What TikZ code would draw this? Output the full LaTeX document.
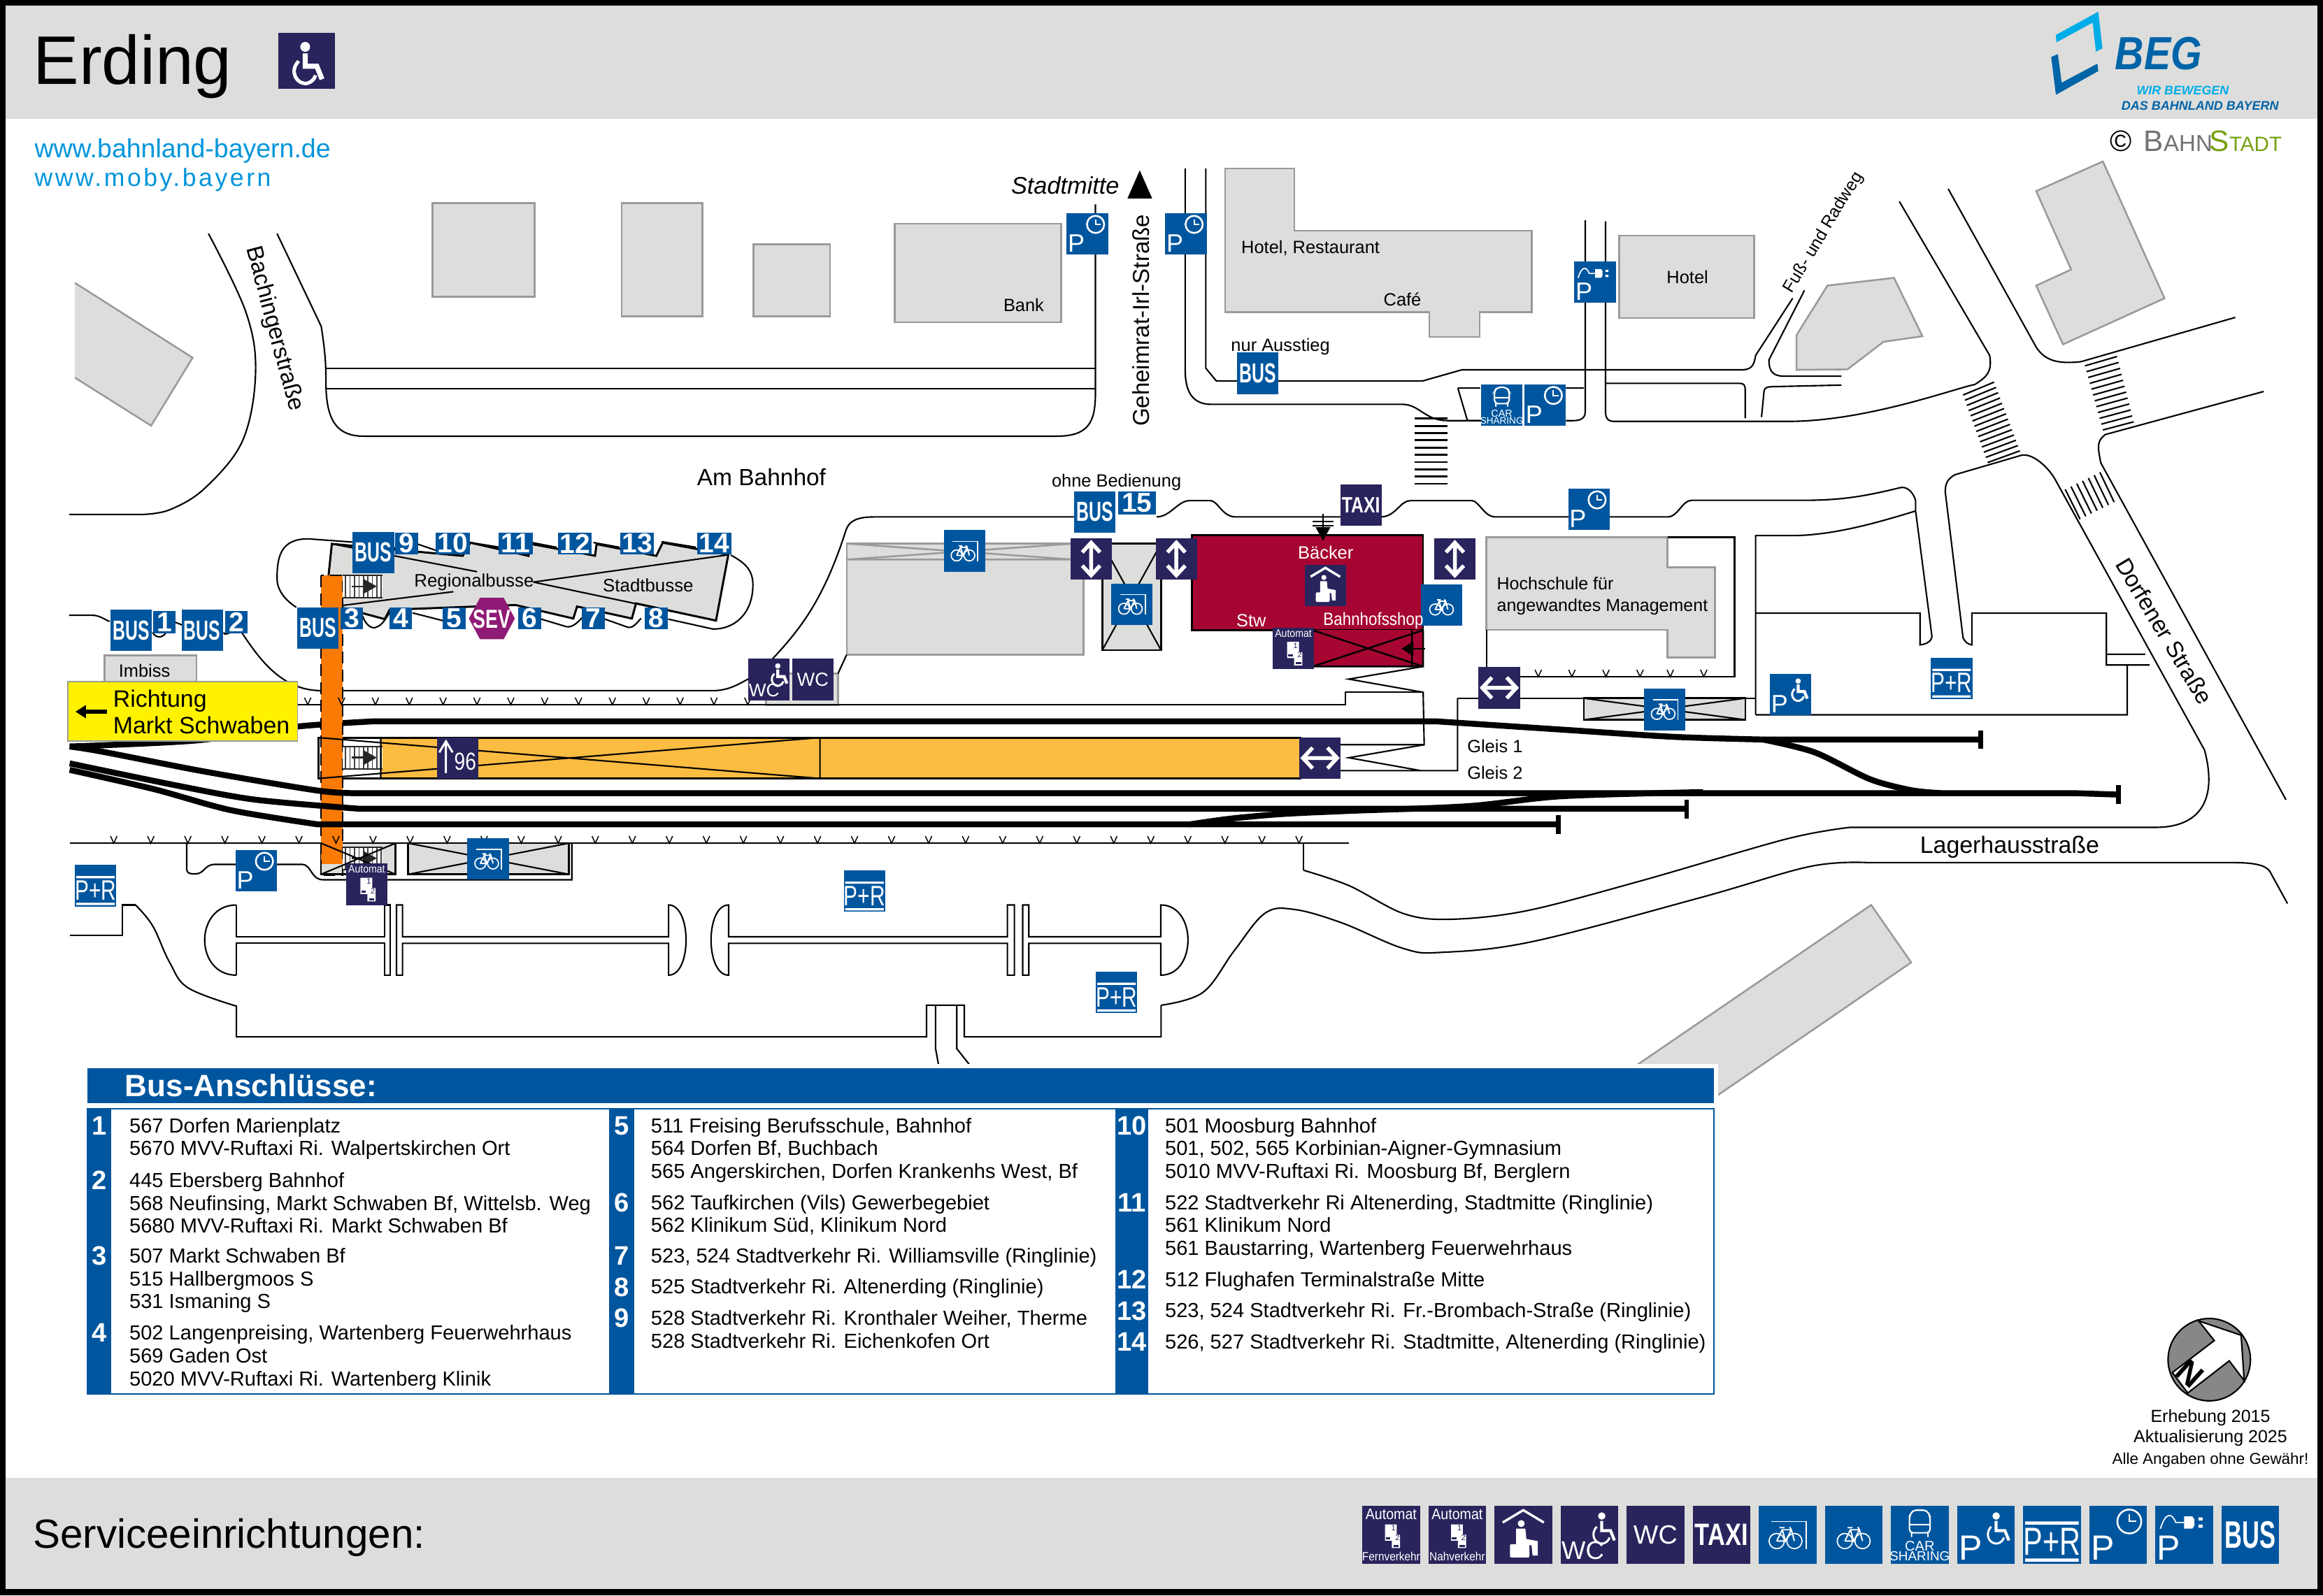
\documentclass[tikz,border=0pt]{standalone}
\usepackage{fontspec}
\setmainfont{Liberation Sans}
\newfontfamily\spacedfont[LetterSpace=10]{Liberation Sans}
\usetikzlibrary{calc}

\definecolor{begblue}{HTML}{00569E}
\definecolor{navysign}{HTML}{29245C}
\definecolor{crimsonbox}{HTML}{A60532}
\definecolor{orangebar}{HTML}{F97A04}
\definecolor{amberbox}{HTML}{FBBC42}
\definecolor{buildgray}{HTML}{DDDDDC}
\definecolor{buildline}{HTML}{9A9A9A}
\definecolor{sevpurple}{HTML}{8F1A75}
\definecolor{signyellow}{HTML}{FFF200}
\definecolor{linkblue}{HTML}{0095DB}
\definecolor{logolight}{HTML}{00ADE8}
\definecolor{logodark}{HTML}{0064A8}
\definecolor{stadtgreen}{HTML}{76A012}

\newcommand{\fsz}[1]{\fontsize{#1}{#1}\selectfont}
\newcommand{\wcpath}[1][1]{%
	\fill (0,-6.5) circle (1.9);
	\draw[line width=#1*1pt] (0,-4)--(0,1)--(4.5,1)--(6.5,6);
	\draw[line width=#1*.7pt] (-2.5,-1) .. controls (-6.5,3) and (-3,8.5) .. (1,7.5) .. controls (2.5,7) and (3.5,6) .. (4,4.5);
}
\newcommand{\clockpath}{%
	\draw[white,line width=.6pt] (5.5,-6.5) circle (5.8);
	\draw[white,line width=.5pt] (5.5,-10)--(5.5,-6.5)--(9,-6.5);
}
\newcommand{\bikepath}{%
	\draw[white,line width=.4pt] (-4.3,3) circle (3.7) (4.3,3) circle (3.7);
	\draw[white,line width=.45pt] (-4.3,3)--(-1.6,-2.5)--(2.8,-2.5)--(4.3,3) (-1.6,-2.5)--(0,3)--(2.8,-2.5) (-4.3,3)--(0,3) (-3,-3.5)--(-.5,-3.5) (2,-3.8)--(2.8,-2.5);
}
\newcommand{\docpath}{%
	\fill[white] (-4.2,-5)--(3.8,-5)--(3.8,2)--(6,2)--(6,11)--(.5,11)--(.5,6)--(-4.2,6)--cycle;
	\node[text=navysign,font=\fsz{2.6},inner sep=0pt] at (1.5,-2.5) {1};
	\node[text=navysign,font=\fsz{2.6},inner sep=0pt] at (4.2,4) {2};
	\fill[navysign] (-3.5,3.6) rectangle (-.5,5);
	\fill[navysign] (1.5,8.8) rectangle (5.2,10.2);
}
\tikzset{
	road/.style={draw=black,line width=.5pt},
	house/.style={fill=buildgray,draw=buildline,line width=.6pt},
	track/.style={draw=black,line width=2pt},
	stoptick/.style={draw=black,line width=1.5pt},
	label/.style={inner sep=0pt,font=\fsz{6}},
	streetname/.style={inner sep=0pt,font=\fsz{7.8}},
	signtxt/.style={text=white,inner sep=0pt},
	numsign/.style={fill=begblue,text=white,font=\bfseries\fsz{9.2},inner sep=0pt,minimum height=7.5pt,minimum width=7.7pt},
	numwide/.style={numsign,minimum width=11.5pt},
	tbl/.style={anchor=north west,inner sep=0pt,align=left,font=\fontsize{6.86}{7.72}\selectfont},
	tblnum/.style={text=white,inner sep=0pt,font=\bfseries\fsz{9}},
	pics/busicon/.style={code={
		\fill[begblue] (-14,-14) rectangle (14,14);
		\node[signtxt,font=\bfseries\fsz{9.3},xscale=.63] at (0,0) {BUS};
	}},
	pics/pclock/.style={code={
		\fill[begblue] (-14,-14) rectangle (14,14);
		\node[signtxt,font=\fsz{8.5}] at (-7.5,6.5) {P};
		\clockpath
	}},
	pics/pplug/.style={code={
		\fill[begblue] (-14,-14) rectangle (14,14);
		\node[signtxt,font=\fsz{8.5}] at (-7.5,6.5) {P};
		\draw[white,line width=.4pt] (-11.5,-3) .. controls (-9,-11) and (-6,-11) .. (-4,-6) -- (2,-6);
		\fill[white] (0,-9)--(4,-9)--(5,-7.5)--(5,-4.5)--(4,-3)--(0,-3)--cycle;
		\fill[white] (7,-8.5) rectangle (9,-7) (7,-5) rectangle (9,-3.5);
	}},
	pics/pdis/.style={code={
		\fill[begblue] (-14,-14) rectangle (14,14);
		\node[signtxt,font=\fsz{8.5}] at (-7.5,6.5) {P};
		\begin{scope}[shift={(5,-3)},white,scale=.95]\wcpath\end{scope}
	}},
	pics/wcdis/.style={code={
		\fill[navysign] (-14,-14) rectangle (14,14);
		\node[signtxt,font=\fsz{6.2}] at (-3.2,7.5) {WC};
		\begin{scope}[shift={(6,-3)},white,scale=.95]\wcpath\end{scope}
	}},
	pics/wcicon/.style={code={
		\fill[navysign] (-14,-14) rectangle (14,14);
		\node[signtxt,font=\fsz{6.4}] at (0,0) {WC};
	}},
	pics/taxiicon/.style={code={
		\fill[navysign] (-14,-14) rectangle (14,14);
		\node[signtxt,font=\bfseries\fsz{7.5},xscale=.78] at (0,0) {TAXI};
	}},
	pics/bikeroof/.style={code={
		\fill[begblue] (-14,-14) rectangle (14,14);
		\draw[white,line width=.4pt] (-8,-6.5)--(9,-6.5)--(9,7);
		\begin{scope}[xshift=-.5pt]\bikepath\end{scope}
	}},
	pics/bikeicon/.style={code={
		\fill[begblue] (-14,-14) rectangle (14,14);
		\bikepath
	}},
	pics/caricon/.style={code={
		\fill[begblue] (-14,-14) rectangle (14,14);
		\draw[white,line width=.5pt,rounded corners=1.2pt] (-5,-1)--(-5,-9)--(-3.5,-12)--(3.5,-12)--(5,-9)--(5,-1)--cycle (-5,-5)--(5,-5) (-4,-1)--(-4,1) (4,-1)--(4,1);
		\node[signtxt,font=\fsz{3.4}] at (0,5.5) {CAR};
		\node[signtxt,font=\fsz{3.2}] at (0,10.5) {SHARING};
	}},
	pics/pricon/.style={code={
		\fill[begblue] (-14,-14) rectangle (14,14);
		\fill[white] (-13,-6.5) rectangle (13,-5) (-13,11.5) rectangle (13,13);
		\node[signtxt,font=\fsz{9.5},xscale=.74] at (0,3.2) {P+R};
	}},
	pics/updown/.style={code={
		\fill[navysign] (-14,-14) rectangle (14,14);
		\draw[white,line width=1.3pt] (0,-10)--(0,10) (-6,-4.5)--(0,-11)--(6,-4.5) (-6,4.5)--(0,11)--(6,4.5);
	}},
	pics/leftright/.style={code={
		\fill[navysign] (-14,-14) rectangle (14,14);
		\draw[white,line width=1.3pt] (-10,0)--(10,0) (-5,-7)--(-11.5,0)--(-5,7) (5,-7)--(11.5,0)--(5,7);
	}},
	pics/automaticon/.style={code={
		\fill[navysign] (-14,-14) rectangle (14,14);
		\node[signtxt,font=\fsz{3.7},xscale=.9] at (0,-10) {Automat};
		\begin{scope}[yshift=-.3pt]\docpath\end{scope}
	}},
	pics/automatcap/.style={code={
		\fill[navysign] (-14,-14) rectangle (14,14);
		\node[signtxt,font=\fsz{3.7},xscale=.9] at (0,-10) {Automat};
		\begin{scope}[shift={(0,-1.5)},scale=.72]\docpath\end{scope}
		\node[signtxt,font=\fsz{2.9},xscale=.9] at (0,10.5) {#1};
	}},
	pics/waiticon/.style={code={
		\fill[navysign] (-14,-14) rectangle (14,14);
		\draw[white,line width=.8pt] (-10,-6)--(0,-12)--(10,-6);
		\fill[white] (-1,-5.5) circle (1.7);
		\fill[white] (-3.5,-3)--(1,-3)--(1.5,2)--(7,3)--(7,10)--(4.5,10)--(4,5)--(-3.5,5)--cycle;
		\fill[white,rounded corners=.5pt] (-6.5,4.5) rectangle (3,11);
	}},
	pics/stairicon/.style={code={
		\fill[white] (0,0) rectangle (27,15);
		\foreach \i in {2,5,...,26}
			\draw[black!75,line width=.4pt] (\i,0)--(\i,15);
		\draw[black!85,line width=.5pt] (0,0)--(27,0) (0,15)--(27,15);
		\fill[black!85] (14,2.5)--(23,7.5)--(14,12.5)--cycle;
		\draw[black!85,line width=.6pt] (6,7.5)--(15,7.5);
	}}
}
\newcommand{\footsign}[2]{\pic[scale=1.39,transform shape] at ({939+#1*44.6},1036.3) {#2};}

\begin{document}
\begin{tikzpicture}[x=.5pt,y=-.5pt]
	\useasboundingbox (0,0) rectangle (1568,1077.2);
	\fill[black] (0,0) rectangle (1568,1077.2);
	\fill[white] (4,4) rectangle (1564,1073);
	\fill[buildgray] (4,4) rectangle (1564,80);
	\fill[buildgray] (4,998) rectangle (1564,1073);

	% header
	\node[anchor=west,inner sep=0pt,font=\fsz{23.2}] (title) at (22,45) {Erding};
	\fill[navysign] (188,22) rectangle (226,60);
	\begin{scope}[shift={(206,43)},white,scale=1.75]\wcpath[1.7]\end{scope}
	\fill[logolight] (1387.7,23.6)--(1416.3,7.9)--(1419.1,32.7)--(1414.7,34.9)--(1412.5,15.3)--(1388,28.6)--cycle;
	\fill[logodark] (1384.5,38.5)--(1389,36.5)--(1391.6,55.8)--(1415.7,43)--(1416.3,48)--(1387.7,64)--cycle;
	\node[text=logodark,inner sep=0pt,font=\bfseries\itshape\fsz{15.7},xscale=.86] (beg) at (1457,36) {BEG};
	\node[text=logolight,inner sep=0pt,font=\bfseries\itshape\fsz{4.2}] (beg1) at (1473.3,61.2) {WIR BEWEGEN};
	\node[text=logodark,inner sep=0pt,font=\bfseries\itshape\fsz{4.25}] (beg2) at (1485,71.3) {DAS BAHNLAND BAYERN};
	\node[inner sep=0pt,font=\fsz{10}] (copy) at (1431.4,95.2) {©};
	\node[anchor=west,inner sep=0pt,text=black!55] (bahn) at (1446.7,95.2) {\fsz{10}B\fsz{7.8}AHN};
	\node[anchor=west,inner sep=0pt,text=stadtgreen] (stadt) at (1491,95.2) {\fsz{10}S\fsz{7}TADT};
	\node[anchor=west,inner sep=0pt,text=linkblue,font=\fsz{8.85}] (url1) at (23,102) {www.bahnland-bayern.de};
	\node[anchor=west,inner sep=0pt,text=linkblue,font=\spacedfont\fsz{8.4}] (url2) at (23,121.5) {www.moby.bayern};

	% buildings
	\draw[house] (292,137) rectangle (360.8,200.3);
	\draw[house] (419.6,137) rectangle (474,213.7);
	\draw[house] (508.7,165) rectangle (560.2,213.7);
	\draw[house] (604,151) rectangle (716.3,217.6);
	\fill[buildgray] (50.6,191)--(130,241.5)--(102,287.4)--(50.6,255)--cycle;
	\draw[buildline,line width=.6pt] (50.6,191)--(130,241.5)--(102,287.4)--(50.6,255);
	\draw[house] (827,113.8)--(873.6,113.8)--(873.6,155.8)--(1033.8,155.8)--(1033.8,210.8)--(998.7,210.8)--(998.7,227.4)--(964.7,227.4)--(964.7,210.8)--(827,210.8)--cycle;
	\draw[house] (1093,159) rectangle (1184,214.8);
	\draw[house] (1233.5,192.8)--(1278.4,187.6)--(1297.6,227)--(1271.3,230.8)--(1247,249.4)--(1212.6,249.7)--(1212.6,226.3)--cycle;
	\draw[house] (1419.4,109)--(1461,201.4)--(1392.5,232.5)--(1374.4,192.8)--(1398,182)--(1374.4,129)--cycle;
	\draw[house] (1263,611)--(1290,649.8)--(1159.5,739.4)--(1105,719)--cycle;
	\draw[house] (70.6,442.5) rectangle (132.6,461);
	\draw[house] (517,454.8) rectangle (565.6,476);
	\draw[house] (571.5,367) rectangle (731.4,442);
	\draw[buildline,line width=.6pt] (571.5,377.8)--(731.4,377.8) (571.5,367)--(725,377.8) (571.5,377.8)--(725,367);
	\draw[house,draw=black] (744,367) rectangle (783.7,439);
	\draw[road] (744,367)--(783.7,439) (783.7,367)--(744,439);
	\draw[house] (1003.3,362.7)--(1125.5,362.7)--(1125.5,383)--(1157.5,383)--(1157.5,443.8)--(1125.5,443.8)--(1125.5,425.3)--(1003.3,425.3)--cycle;
	\draw[house,draw=black] (1069,471.4) rectangle (1178,486);
	\draw[road] (1069,471.4)--(1178,486) (1069,486)--(1178,471.4);
	\draw[house,draw=black] (275.5,569.3) rectangle (384,590.3);
	\draw[road] (275.5,569.3)--(384,590.3) (275.5,590.3)--(384,569.3);
	\draw[house,draw=black] (216.7,569.3) rectangle (267,590.3);

	% roads
	\draw[road] plot[smooth,tension=.6] coordinates {(140.7,157.7)(166,210.8)(172.5,251.7)(163.8,297.4)(138.5,329.4)(115,344)(97,347.3)} -- (46.7,347.3);
	\draw[road] (187,157.7) -- (216.8,220.3) .. controls (220,240) and (220,250) .. (220,258) .. controls (220,285) and (228,294.5) .. (245.7,294.5) -- (713,294.5) .. controls (735,294.5) and (739.4,285) .. (739.4,265) -- (739.4,138);
	\draw[road] (220,248.8)--(739.4,248.8) (220,262.3)--(739.4,262.3);
	\draw[road] (800,113.8)--(800,250) .. controls (800,266) and (806,273) .. (817.7,273) -- (946.6,273) .. controls (958,273) and (962,284) .. (976.8,284) -- (999,284);
	\draw[road] (813.9,113.8)--(813.9,248.6)--(821,257.2)--(960.3,257.2)--(986.6,249.7)--(1175.3,249.7) .. controls (1182,249.7) and (1184,247) .. (1185,240) -- (1210,201.4);
	\draw[road] (984,262)--(999,262) (984,262)--(990.5,284)--(1000,284);
	\draw[road] (1070,148.7)--(1070,278) .. controls (1070,283) and (1066,284) .. (1061.8,284) -- (1057,284) (1057,262)--(1069,262);
	\draw[road] (1083.7,149.5)--(1083.7,278) .. controls (1083.7,283) and (1086,284.5) .. (1089,284.5) -- (1207,284.5) .. controls (1260,284.5) and (1320,262) .. (1333,259.6) .. controls (1340,255) and (1345,252) .. (1343,240) -- (1282,136);
	\draw[road] (1083.7,258.8)--(1174,258.8) .. controls (1177,258.8) and (1178,260) .. (1178,263) -- (1178,282.4);
	\draw[road] (1189,281.6)--(1190.7,264) .. controls (1191,261.5) and (1193,261) .. (1199,261) -- (1243,260);
	\draw[road] (1243,254)--(1204.4,254) .. controls (1196,254) and (1194,250) .. (1194,243) -- (1218,196);
	\draw[road] (1315,127.5)--(1374.4,234.4) .. controls (1380,243) and (1388,246) .. (1404.6,244.2) -- (1508.8,214.3);
	\draw[road] (1528,264.3)--(1421,293.4) .. controls (1415,298) and (1416,302) .. (1418,312.5) -- (1543,540);
	\draw[road] plot[smooth,tension=.55] coordinates {(880,587.6)(910.7,598)(947,616.7)(978,620.7)(1030,615)(1107.7,594.7)(1206,566.4)(1248.8,558.6)} -- (1455,558.6) .. controls (1485,558.6) and (1497,540) .. (1488,506.4) -- (1386.8,323) .. controls (1382,315) and (1372,306) .. (1364.7,307.3) -- (1319.6,320.5) .. controls (1315,323) and (1313,326) .. (1313,332) -- (1325,430.5) .. controls (1326,433) and (1328,435) .. (1331,435.4) -- (1331,414) -- (1421.8,414) -- (1421.8,449) -- (1451,449) (1421.8,441.7)--(1448,441.7) (1435.8,449)--(1435.8,482.6)--(1185,482.6);
	\draw[road] (880,569.3)--(880,587.6);
	\draw[road] (1185,482.6)--(1185,361.6)--(1212,361.6) .. controls (1240,361) and (1270,352) .. (1293,345);
	\draw[road] (1185,414)--(1296,414)--(1296,435.4) .. controls (1300,435) and (1304,433) .. (1304,429.5) -- (1293,345) -- (1293,338) .. controls (1291,331) and (1286,328) .. (1282,329.4) .. controls (1255,336) and (1240,337.8) .. (1215.7,337.8) -- (1142,337.8) .. controls (1135,337.8) and (1133,349) .. (1125.5,349) -- (1009,349) .. controls (1002,349) and (998,338) .. (993.5,338) -- (952,338) .. controls (945,338) and (942,349) .. (932,349);
	\draw[road] (905,349)--(834,349) .. controls (825,349) and (822,338) .. (817,338) -- (803,338) .. controls (795,338) and (790,349) .. (780.6,349);
	\draw[road] (725.5,349)--(590,349) .. controls (578,349) and (573,352) .. (571,358) .. controls (556,405) and (540,425) .. (521,445.3);
	\draw[road] (231,466.3)--(481,466.3) .. controls (492,466.3) and (498,462) .. (506,458);
	\draw[road] (1125.5,362.7)--(1170.8,362.7)--(1170.8,456.9)--(1003.3,456.9)--(1003.3,425.3);
	\draw[road] (983.8,471.4)--(1185,471.4);
	\draw[road] (960.6,450)--(910.4,458.5)--(960.6,467.4)--(961.3,502.8)--(904.5,502.8);
	\draw[road] (960.6,467.4)--(908.3,467.4)--(908.3,475.8)--(200,475.8);
	\draw[road] (961.3,502.8)--(910.4,511.6)--(959,520.3)--(904.5,520.3) (959,520.3)--(983.8,520.3)--(983.8,471.4);
	\draw[road] (47,569.3)--(910.6,569.3);
	\draw[road] (571.5,442)--(565.6,454.8);
	\draw[road] (46.7,415.4)--(62.3,415.4) .. controls (67,415.4) and (70,418) .. (74,419.6);
	\draw[road] (103,427) .. controls (105,431) and (110,431) .. (112,427) (118,420)--(123,422);
	\draw[road] (151,427) .. controls (152,430) and (155,426) .. (158,427) (162.7,426.3) .. controls (175,445) and (190,466) .. (216.4,466.3);
	\draw[road] (126,569.3)--(126,586) .. controls (126,590) and (128,590) .. (132,590) .. controls (138,590) and (138,583.6) .. (145,583.6) -- (204,583.6) .. controls (210,583.6) and (210,594) .. (218,594) -- (386,594) -- (386,569.3);
	% parking lots
	\draw[road] (47,631.5)--(82.8,631.5)--(82.8,611)--(91.5,611);
	\draw[road] plot[smooth,tension=.6] coordinates {(91.5,611)(103,625)(114.6,650)(127,667)(159.6,679.3)} -- (159.6,700)--(625.4,700)--(625.4,678.7)--(650.9,678.7)--(650.9,700)--(783.7,700)--(783.7,678.7);
	\draw[road] plot[smooth,tension=.6] coordinates {(783.7,678.7)(812,670)(833,642)(853.7,616.7)(873.4,614)(905.5,623)(947,640.3)(973,643)(1035,635.6)(1149,605.7)(1221.8,585)(1260.6,582.4)} -- (1507,582.4) .. controls (1525,582.4) and (1531,585) .. (1533,590) -- (1544,610);
	\draw[road] (631.5,678.7)--(631.5,708)--(633.5,719) (645.8,678.7)--(645.8,708)--(654.5,719);
	\draw[road] (159.6,611) .. controls (131,611) and (131,658.4) .. (159.6,658.4);
	\draw[road] (159.6,611)--(159.6,632.5)--(259.4,632.5)--(259.4,611)--(263.5,611)--(263.5,658.4)--(259.4,658.4)--(259.4,636.9)--(159.6,636.9)--(159.6,658.4);
	\draw[road] (271.7,611)--(271.7,632.5)--(451.3,632.5)--(451.3,611) .. controls (467,611) and (467,658.4) .. (451.3,658.4) -- (451.3,636.9)--(271.7,636.9)--(271.7,658.4)--(267.6,658.4)--(267.6,611)--cycle;
	\draw[road] (491.8,611) .. controls (476,611) and (476,658.4) .. (491.8,658.4) -- (491.8,636.9)--(680,636.9)--(680,658.4)--(684.7,658.4)--(684.7,611)--(680,611)--(680,632.5)--(491.8,632.5)--cycle;
	\draw[road] (694.4,611)--(694.4,632.5)--(783.5,632.5)--(783.5,611) .. controls (808,611) and (808,658.4) .. (783.5,658.4) -- (783.5,636.9)--(694.4,636.9)--(694.4,658.4)--(690.3,658.4)--(690.3,611)--cycle;

	% crossings
	\foreach \i in {0,...,9}
		\draw[line width=.7pt] (955,{282.7+\i*4.88})--(977,{282.7+\i*4.88});
	\foreach \i in {0,...,13}
		\draw[line width=.5pt] ($(1325,266.7)!\i/13!(1341.6,312.3)$)--($(1346,258)!\i/13!(1363.4,304.4)$);
	\foreach \i in {0,...,11}
		\draw[line width=.5pt] ($(1407.3,247)!\i/11!(1419.4,290.3)$)--($(1429,240.7)!\i/11!(1440.2,284.8)$);
	\foreach \i in {0,...,6}
		\draw[line width=.5pt] ($(1394,330.4)!\i/6!(1417.4,318.9)$)--($(1404,350.5)!\i/6!(1427,339)$);

	% bus station
	\draw[road] (208,363.8) .. controls (190,363.8) and (187,375) .. (187,390.6) .. controls (187,398) and (192,405) .. (200,410);
	\draw[road] (208,363.8)--(238,366) (265.5,371.6) .. controls (272,362) and (278,365) .. (282,367.4) (282,367.4)--(294.3,371.6) (317.5,366.3)--(337.5,369.5) (359,366.3)--(375.6,369.5) (400.5,366.3)--(418.2,369.5) (446.6,365.7)--(469.8,369.5);
	\draw[road] (493.3,374.8) .. controls (503,380) and (508.2,385) .. (508.2,394.8) .. controls (508.2,415) and (495,425) .. (481.2,424.7) -- (451,418);
	\draw[road] (408,417.9)--(424,423.6) .. controls (428,424) and (430,420) .. (432.8,417.5);
	\draw[road] (365,417.9)--(382.6,423.2) .. controls (387,423.5) and (390,420) .. (393,417);
	\draw[road] (278.4,413.8)--(298.8,419);
	\draw[road] (244.8,415.8) .. controls (247,423) and (252,425) .. (254.5,423.2) .. controls (258,422) and (260,418) .. (263,413.8);
	\draw[fill=buildgray,line width=.7pt] (224,367.2)--(312.3,375.3)--(317.5,366.4)--(356.7,375.3)--(359,367.4)--(401.6,375.2)--(402.7,367.4)--(443,375.3)--(447.3,366.4)--(491.6,374.6)--(483.3,419)--(429.3,407.4)--(426.5,417.6)--(389.5,409.5)--(387,417.6)--(348,408.5)--(263,411.7)--(259.7,418)--(232,410.6)--(219.5,410.2)--cycle;
	\node[label,font=\fsz{6.1}] (regional) at (320,393) {Regionalbusse};
	\node[label,font=\fsz{6.1}] (stadtbus) at (437.5,395) {Stadtbusse};
	\draw[road] (224,367.2)--(322,386) (219.5,410.2)--(306,399.5) (360,393)--(491.6,374.6) (360,393)--(483.3,419);

	% crimson block
	\fill[crimsonbox] (804.5,361.2) rectangle (960.6,425.5);
	\draw[line width=.6pt] (804.5,425.5)--(804.5,361.2)--(960.6,361.2)--(960.6,425.5)--cycle;
	\fill[crimsonbox] (880,425.5) rectangle (960.6,450);
	\draw[line width=.6pt] (880,450)--(960.6,450)--(960.6,425.5) (886,425.5)--(960.6,450) (886,450)--(960.6,425.5) (953,425.5)--(953,450);
	\draw (893,347)--(893,365) (886,352)--(900,352) (886,355)--(900,355);
	\fill[black] (888,356)--(898,356)--(893,365)--cycle;
	\draw (952,438)--(962,438);
	\fill[black] (946,438)--(954,433)--(954,443)--cycle;

	% tracks
	\draw[track] plot[smooth,tension=.5] coordinates {(47,504)(131.6,500)(200,490.6)(252.7,487)} -- (969,487);
	\draw[track] plot[smooth,tension=.5] coordinates {(969,487)(1060,493)(1130,497.5)(1190,499.3)} -- (1337,499.3);
	\draw[stoptick] (1337,493)--(1337,505.5);
	\fill[amberbox] (257,498) rectangle (877.5,525.6);
	\draw[line width=.7pt] (215,498) rectangle (877.5,525.6);

	% orange bar
	\fill[orangebar] (216.7,388.6) rectangle (231.3,583.6);
	\draw[line width=.5pt,dash pattern=on 4pt off 2pt] (216.7,388.6) rectangle (231.3,591);
	\draw[track] plot[smooth,tension=.5] coordinates {(47,504)(69,507.5)(138.5,521)(214.6,533.8)(242,535.5)} -- (1400,535.5) -- (1430,536.5);
	\draw[track] plot[smooth,tension=.5] coordinates {(47,515.4)(121,530.7)(173,540)(242,546)} -- (1138.6,546);
	\draw[track] plot[smooth,tension=.5] coordinates {(47,519.8)(103.9,532.8)(155.8,547)(214.6,556.6)} -- (1051.8,556.6);
	\draw[track] plot[smooth,tension=.5] coordinates {(1190,499.3)(1225,508)(1262,526)(1290,533.5)(1310,535.5)};
	\draw[track] plot[smooth,tension=.5] coordinates {(803,556.6)(830.8,552.7)(865.4,549.6)(910.4,547.5)(991,544.3)(1053.8,537.6)(1149.5,534.8)};
	\draw[stoptick] (1430,530)--(1430,543);
	\draw[stoptick] (1138.6,540)--(1138.6,552.5);
	\draw[stoptick] (1051.8,550.5)--(1051.8,563);
	\pic at (231.3,388.4) {stairicon};
	\pic at (231.3,504) {stairicon};
	\pic at (231.3,572) {stairicon};
	\draw[road] (215,498)--(553.5,525.6) (215,525.6)--(553.5,498) (553.5,498)--(553.5,525.6) (257,498)--(257,525.6);
	\draw[road] (216.7,569.3)--(267,590.3) (216.7,590.3)--(267,569.3);

	% fence ticks
	\foreach \i in {0,...,13}
		\draw[line width=.35pt] ({207.7+\i*22.85-2.2},471)--({207.7+\i*22.85},475.8)--({207.7+\i*22.85+2.2},471);
	\foreach \i in {0,...,32}
		\draw[line width=.35pt] ({76.8+\i*25-2.2},564.5)--({76.8+\i*25},569.3)--({76.8+\i*25+2.2},564.5);
	\foreach \tx in {1038.3,1061,1084,1107,1127.4,1150}
		\draw[line width=.35pt] (\tx-2.2,452.2)--(\tx,456.9)--(\tx+2.2,452.2);

	% signs
	\node[draw=buildline,fill=signyellow,line width=.4pt,minimum width=77.6pt,minimum height=20pt,inner sep=0pt] (schwaben) at (123.3,480.2) {};
	\node[anchor=west,inner sep=0pt,font=\fontsize{8}{9}\selectfont,align=left] (richtung) at (76,480.5) {Richtung\\Markt Schwaben};
	\draw[line width=1.2pt] (72,480.5)--(56,480.5);
	\fill[black] (51,480.5)--(58,476)--(58,485)--cycle;
	\foreach \x/\y in {88.5/425.5,136.5/425.5,252/373,214.5/424,739/345.6,849/252}
		\pic at (\x,\y) {busicon};
	\node[numsign] (n1) at (111,420) {1};
	\node[numsign] (n2) at (159.5,420) {2};
	\node[numsign] (n3) at (237.5,417.5) {3};
	\node[numsign] (n4) at (270.5,417.5) {4};
	\node[numsign] (n5) at (306.5,417.5) {5};
	\node[numsign] (n6) at (357.5,417.5) {6};
	\node[numsign] (n7) at (400.5,417.5) {7};
	\node[numsign] (n8) at (443,417.5) {8};
	\node[numsign] (n9) at (274.5,367) {9};
	\node[numwide] (n10) at (305.5,367) {10};
	\node[numwide] (n11) at (348,367) {11};
	\node[numwide] (n12) at (388,367) {12};
	\node[numwide] (n13) at (430,367) {13};
	\node[numwide] (n14) at (482,367) {14};
	\node[numwide,minimum height=7.7pt,minimum width=12.6pt] (n15) at (767.4,339.6) {15};
	\fill[sevpurple] (316.5,417.6)--(324,403.6)--(340,403.6)--(347.5,417.6)--(340,431.6)--(324,431.6)--cycle;
	\node[signtxt,font=\bfseries\fsz{8.8},xscale=.72] (sev) at (332,417.8) {SEV};
	\fill[navysign] (295,498) rectangle (323,525.6);
	\draw[white,line width=.7pt] (301,522)--(301,502) (296.5,508)--(301,500.5)--(305.5,508);
	\node[signtxt,font=\fsz{8.3},xscale=.8] (line96) at (314,514) {96};
	\pic at (891,511.8) {leftright};
	\pic at (1012,464.4) {leftright};
	\foreach \x in {736.5,794,982}
		\pic at (\x,377.4) {updown};
	\foreach \x/\y in {329.5/580,651/372,764/408,1123.6/479}
		\pic at (\x,\y) {bikeroof};
	\pic at (973,408.5) {bikeicon};
	\foreach \x/\y in {173/588,734/158,800.5/158,1043/273.5,1072.5/344}
		\pic at (\x,\y) {pclock};
	\foreach \x/\y in {64.5/598,583.5/601.7,753.6/670,1317.3/458}
		\pic at (\x,\y) {pricon};
	\pic at (1208.7,469) {pdis};
	\pic at (1076.7,190.6) {pplug};
	\pic at (1013.7,273.5) {caricon};
	\pic at (918.6,341) {taxiicon};
	\pic at (519,458.8) {wcdis};
	\pic at (548.6,458.8) {wcicon};
	\pic at (247.5,597) {automaticon};
	\pic at (873,437.7) {automaticon};
	\pic at (894.6,395.4) {waiticon};

	% labels
	\node[label,text=white] (baecker) at (894.8,373) {Bäcker};
	\node[label,text=white] (stw) at (844.6,419) {Stw};
	\node[label,text=white,xscale=.88] (shop) at (927,419) {Bahnhofsshop};
	\node[label,font=\fsz{7.9}] (bahnhof) at (514,322) {Am Bahnhof};
	\node[label] (bank) at (691,206) {Bank};
	\node[label] (hotelrest) at (884.6,167.3) {Hotel, Restaurant};
	\node[label] (cafe) at (946.6,202) {Café};
	\node[label] (hotel) at (1139,187) {Hotel};
	\node[label] (imbiss) at (97.5,453) {Imbiss};
	\node[label] (ausstieg) at (864.3,234) {nur Ausstieg};
	\node[label] (bedienung) at (753.6,325.8) {ohne Bedienung};
	\node[label,anchor=west,align=left,font=\fontsize{5.9}{7.2}\selectfont] (hochschule) at (1010,402.5) {Hochschule für\\angewandtes Management};
	\node[label,anchor=west] (gleis1) at (990,503.8) {Gleis 1};
	\node[label,anchor=west] (gleis2) at (990,521.8) {Gleis 2};
	\node[label,font=\itshape\fsz{8.1}] (mitte) at (719,125) {Stadtmitte};
	\fill[black] (761,134)--(769.3,115)--(777.7,134)--cycle;
	\node[streetname,rotate=90] (geheimrat) at (770,216.4) {Geheimrat-Irl-Straße};
	\node[streetname,rotate=-75] (bachinger) at (185,222) {Bachingerstraße};
	\node[streetname,rotate=-59] (dorfener) at (1461,426) {Dorfener Straße};
	\node[streetname,font=\fsz{8}] (lager) at (1356.5,572) {Lagerhausstraße};
	\node[label,rotate=59,font=\fsz{5.8}] (radweg) at (1231,157) {Fuß- und Radweg};

	% table
	\fill[white] (57,718.5) rectangle (1159.5,747);
	\fill[begblue] (59,721) rectangle (1157,745);
	\node[anchor=west,text=white,inner sep=0pt,font=\bfseries\fsz{10.4}] (bushead) at (84,733) {Bus-Anschlüsse:};
	\draw[begblue,line width=.4pt] (59,748.5) rectangle (1157,941);
	\fill[begblue] (59,748.5) rectangle (75,941);
	\fill[begblue] (411,748.5) rectangle (428,941);
	\fill[begblue] (753,748.5) rectangle (775,941);
	\foreach \t/\x/\y in {1/67/760,2/67/797,3/67/848,4/67/900,5/419.5/760,6/419.5/812,7/419.5/848,8/419.5/869,9/419.5/890,10/764/760,11/764/812,12/764/864,13/764/885,14/764/906}
		\node[tblnum] at (\x,\y) {\t};
	\node[tbl] (l1) at (87,754.3) {567 Dorfen Marienplatz\\5670 MVV-Ruftaxi Ri. Walpertskirchen Ort};
	\node[tbl] (l2) at (87,791.3) {445 Ebersberg Bahnhof\\568 Neufinsing, Markt Schwaben Bf, Wittelsb. Weg\\5680 MVV-Ruftaxi Ri. Markt Schwaben Bf};
	\node[tbl] (l3) at (87,842.3) {507 Markt Schwaben Bf\\515 Hallbergmoos S\\531 Ismaning S};
	\node[tbl] (l4) at (87,894.3) {502 Langenpreising, Wartenberg Feuerwehrhaus\\569 Gaden Ost\\5020 MVV-Ruftaxi Ri. Wartenberg Klinik};
	\node[tbl] (l5) at (439,754.3) {511 Freising Berufsschule, Bahnhof\\564 Dorfen Bf, Buchbach\\565 Angerskirchen, Dorfen Krankenhs West, Bf};
	\node[tbl] (l6) at (439,806.3) {562 Taufkirchen (Vils) Gewerbegebiet\\562 Klinikum Süd, Klinikum Nord};
	\node[tbl] (l7) at (439,842.3) {523, 524 Stadtverkehr Ri. Williamsville (Ringlinie)};
	\node[tbl] (l8) at (439,863.3) {525 Stadtverkehr Ri. Altenerding (Ringlinie)};
	\node[tbl] (l9) at (439,884.3) {528 Stadtverkehr Ri. Kronthaler Weiher, Therme\\528 Stadtverkehr Ri. Eichenkofen Ort};
	\node[tbl] (l10) at (786,754.3) {501 Moosburg Bahnhof\\501, 502, 565 Korbinian-Aigner-Gymnasium\\5010 MVV-Ruftaxi Ri. Moosburg Bf, Berglern};
	\node[tbl] (l11) at (786,806.3) {522 Stadtverkehr Ri Altenerding, Stadtmitte (Ringlinie)\\561 Klinikum Nord\\561 Baustarring, Wartenberg Feuerwehrhaus};
	\node[tbl] (l12) at (786,858.3) {512 Flughafen Terminalstraße Mitte};
	\node[tbl] (l13) at (786,879.3) {523, 524 Stadtverkehr Ri. Fr.-Brombach-Straße (Ringlinie)};
	\node[tbl] (l14) at (786,900.3) {526, 527 Stadtverkehr Ri. Stadtmitte, Altenerding (Ringlinie)};

	% north arrow
	\draw[fill=black!47,line width=.5pt] (1491.2,918) circle (27.8);
	\draw[fill=white,line width=.5pt] (1484,891.8)--(1512.7,901.5)--(1514.8,932.2)--(1504.7,918.8)--(1476.7,940.5)--(1466.3,926.7)--(1494.6,905.1)--cycle;
	\node[inner sep=0pt,font=\bfseries\fsz{11},rotate=-42] (north) at (1478,927.5) {N};
	\node[inner sep=0pt,font=\fsz{5.9}] (erhebung) at (1492,957) {Erhebung 2015};
	\node[inner sep=0pt,font=\fsz{5.9}] (aktual) at (1492,971) {Aktualisierung 2025};
	\node[inner sep=0pt,font=\fsz{5.3}] (gewaehr) at (1492,986) {Alle Angaben ohne Gewähr!};

	% footer
	\node[anchor=west,inner sep=0pt,font=\fsz{13.75}] (service) at (22,1038) {Serviceeinrichtungen:};
	\footsign{0}{automatcap=Fernverkehr}
	\footsign{1}{automatcap=Nahverkehr}
	\footsign{2}{waiticon}
	\footsign{3}{wcdis}
	\footsign{4}{wcicon}
	\footsign{5}{taxiicon}
	\footsign{6}{bikeroof}
	\footsign{7}{bikeicon}
	\footsign{8}{caricon}
	\footsign{9}{pdis}
	\footsign{10}{pricon}
	\footsign{11}{pclock}
	\footsign{12}{pplug}
	\footsign{13}{busicon}
\end{tikzpicture}
\end{document}
